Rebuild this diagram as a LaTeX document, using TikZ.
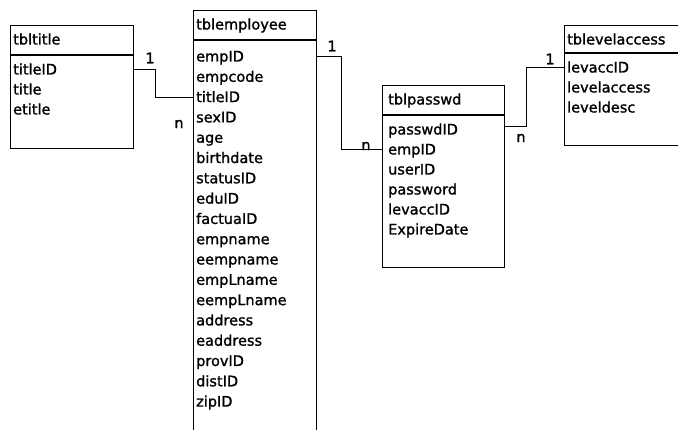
\documentclass[tikz,border=0pt]{standalone}
\usepackage{fontspec}
\setmainfont{DejaVu Sans}
\newfontfamily\erfont[FakeBold=1.2]{DejaVu Sans}
\begin{document}
\begin{tikzpicture}[x=1pt,y=-1pt,
  tbl/.style={draw, line width=1.2pt, rectangle, inner sep=0pt, anchor=north west},
  hdr/.style={line width=1.8pt},
  fld/.style={anchor=west, inner sep=0pt, text height=11pt, text depth=2pt, font=\erfont\fontsize{14.5}{16}\selectfont},
  card/.style={inner sep=0pt, font=\erfont\fontsize{14.5}{16}\selectfont},
  conn/.style={line width=1pt}]
\useasboundingbox (0,0) rectangle (678,430);
\fill[white] (0,0) rectangle (678,430);
% tables
\node[tbl, minimum width=123pt, minimum height=123pt] (tt) at (10,25) {};
\node[tbl, minimum width=123pt, minimum height=440pt] (emp) at (193,10) {};
\node[tbl, minimum width=122pt, minimum height=182pt] (pw) at (382,85) {};
\node[tbl, minimum width=130pt, minimum height=120pt] (la) at (564,25) {};
\draw[hdr] ([yshift=-30pt]tt.north west) -- ([yshift=-30pt]tt.north east);
\draw[hdr] ([yshift=-30pt]emp.north west) -- ([yshift=-30pt]emp.north east);
\draw[hdr] ([yshift=-30pt]pw.north west) -- ([yshift=-30pt]pw.north east);
\draw[hdr] ([yshift=-28pt]la.north west) -- ([yshift=-28pt]la.north east);
% tbltitle
\node[fld] (tth) at (13,40) {tbltitle};
\node[fld] (tt1) at (13,70) {titleID};
\node[fld] (tt2) at (13,90) {title};
\node[fld] (tt3) at (13,110) {etitle};
% tblemployee
\node[fld] (eh) at (196,25) {tblemployee};
\foreach \t [count=\i from 0] in {empID,empcode,titleID,sexID,age,birthdate,statusID,eduID,factuaID,empname,eempname,empLname,eempLname,address,eaddress,provID,distID,zipID}
  \node[fld] (e\i) at (196,{57+20.3*\i}) {\t};
% tblpasswd
\node[fld] (pwh) at (388,100) {tblpasswd};
\foreach \t [count=\i from 0] in {passwdID,empID,userID,password,levaccID,ExpireDate}
  \node[fld] (p\i) at (388,{130+20*\i}) {\t};
% tbllevelaccess
\node[fld] (lah) at (567,40) {tblevelaccess};
\foreach \t [count=\i from 0] in {levaccID,levelaccess,leveldesc}
  \node[fld] (l\i) at (567,{68+20*\i}) {\t};
% connectors
\coordinate (c1) at (155,70);
\draw[conn] (tt.east |- tt1) -- (c1) |- (emp.west |- e2);
\node[card] (one1) at (150,58) {1};
\node[card] (n1) at (179,124) {n};
\coordinate (c2) at (341,57);
\draw[conn] (emp.east |- e0) -- (c2) |- (pw.west |- p1);
\node[card] (one2) at (332,46) {1};
\node[card] (n2) at (366,146) {n};
\coordinate (c3) at (526,127);
\draw[conn] (pw.east |- c3) -- (c3) |- (la.west |- l0);
\node[card] (one3) at (550,59) {1};
\node[card] (n3) at (521,138) {n};
\end{tikzpicture}
\end{document}
